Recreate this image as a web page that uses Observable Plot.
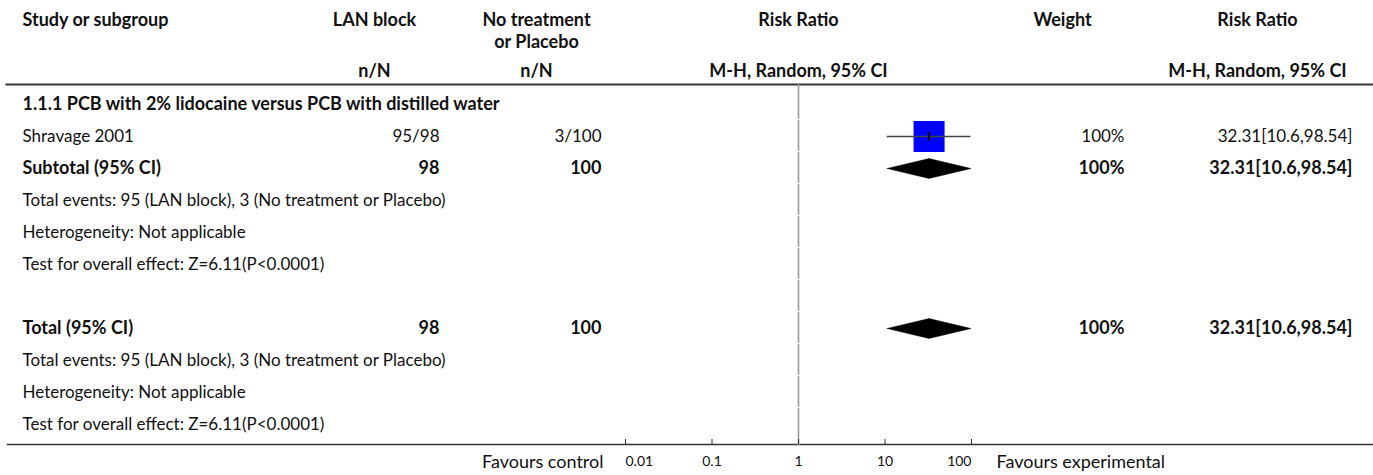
<!DOCTYPE html>
<html>
<head>
<meta charset="utf-8">
<script src="https://cdn.jsdelivr.net/npm/d3@7"></script>
<script src="https://cdn.jsdelivr.net/npm/@observablehq/plot@0.6"></script>
<style>
  html, body { margin: 0; padding: 0; background: #fff; }
  #chart svg { display: block; }
</style>
</head>
<body>
<div id="chart"></div>
<script>
// ---- Forest plot data ----
const groupTitle = "1.1.1 PCB with 2% lidocaine versus PCB with distilled water";

// individual studies
const studyNames = ["Shravage 2001"];
const lanEvents = [95];
const lanTotals = [98];
const ctrlEvents = [3];
const ctrlTotals = [100];
const studyRR = [32.31];
const studyLow = [10.6];
const studyHigh = [98.54];
const studyWeight = [100];

// pooled estimates (subtotal of the group, overall total)
const pooledNames = ["Subtotal (95% CI)", "Total (95% CI)"];
const pooledLanTotals = [98, 98];
const pooledCtrlTotals = [100, 100];
const pooledRR = [32.31, 32.31];
const pooledLow = [10.6, 10.6];
const pooledHigh = [98.54, 98.54];
const pooledWeight = [100, 100];

// summary lines printed under each pooled estimate
const summaryLines = [
  "Total events: 95 (LAN block), 3 (No treatment or Placebo)",
  "Heterogeneity: Not applicable",
  "Test for overall effect: Z=6.11(P<0.0001)"
];

// axis
const axisTicks = [0.01, 0.1, 1, 10, 100];
const favoursLeft = "Favours control";
const favoursRight = "Favours experimental";

// column headers
const headerCells = [
  {text: "Study or subgroup", col: "label", line: 0},
  {text: "LAN block", col: "lan", line: 0},
  {text: "n/N", col: "lan", line: 2},
  {text: "No treatment", col: "ctrl", line: 0},
  {text: "or Placebo", col: "ctrl", line: 1},
  {text: "n/N", col: "ctrl", line: 2},
  {text: "Risk Ratio", col: "plot", line: 0},
  {text: "M-H, Random, 95% CI", col: "plot", line: 2},
  {text: "Weight", col: "weight", line: 0},
  {text: "Risk Ratio", col: "rr", line: 0},
  {text: "M-H, Random, 95% CI", col: "rr", line: 2}
];

// ---- Build the table rows ----
const rows = [];
rows.push({label: groupTitle, bold: true});
studyNames.forEach((name, i) => rows.push({
  label: name, bold: false, kind: "study",
  lan: `${lanEvents[i]}/${lanTotals[i]}`, ctrl: `${ctrlEvents[i]}/${ctrlTotals[i]}`,
  rr: studyRR[i], lo: studyLow[i], hi: studyHigh[i], weight: studyWeight[i]
}));
pooledNames.forEach((name, i) => {
  if (i > 0) rows.push({label: "", bold: false}); // spacer before the overall total
  rows.push({
    label: name, bold: true, kind: "pooled",
    lan: `${pooledLanTotals[i]}`, ctrl: `${pooledCtrlTotals[i]}`,
    rr: pooledRR[i], lo: pooledLow[i], hi: pooledHigh[i], weight: pooledWeight[i]
  });
  summaryLines.forEach(s => rows.push({label: s, bold: false}));
});
rows.forEach((r, i) => r.row = i);

const studies = rows.filter(r => r.kind === "study");
const pooled = rows.filter(r => r.kind === "pooled");
const fmtCI = r => `${r.rr}[${r.lo},${r.hi}]`;

// diamonds as closed polygons
const diamondHalf = 0.31;
const diamonds = pooled.flatMap(r => [
  {id: r.row, x: r.lo, y: r.row},
  {id: r.row, x: r.rr, y: r.row - diamondHalf},
  {id: r.row, x: r.hi, y: r.row},
  {id: r.row, x: r.rr, y: r.row + diamondHalf},
  {id: r.row, x: r.lo, y: r.row}
]);

// line of no effect, drawn one row at a time
const nullSegments = rows.map(r => ({
  y1: r.row - (r.row === 0 ? 0.62 : 0.5),
  y2: r.row + (r.row === rows.length - 1 ? 0.66 : 0.47)
}));

// ---- Layout ----
const plotWidth = 1373, plotHeight = 475;
const colX = {label: 22, lan: 374, ctrl: 536, plot: 798, weight: 1062, rr: 1257};
const valueRight = {lan: 439, ctrl: 601, weight: 1124, rr: 1352};
const headerY = [20, 42, 71];
const frameTop = 84, frameBottom = 444;
const font = "Lato, 'Open Sans', sans-serif";
const ink = "#111";
const size = {header: 18, body: 17, bold: 18, tick: 14, favours: 18};

// text placed at fixed column positions; rows come from the y scale
function placedText(data, place, opts) {
  return Plot.text(data, {
    frameAnchor: "top-left", lineAnchor: "middle", fill: ink, ...opts,
    render(index, scales, values, dims, ctx, next) {
      const g = next(index, scales, values, dims, ctx);
      d3.select(g).selectAll("text").each(function(_, j) {
        const i = index[j];
        const [px, py] = place(data[i], i, values);
        this.setAttribute("transform", `translate(${px},${py})`);
      });
      return g;
    }
  });
}
const inColumn = (xPos) => (d, i, v) => [xPos, v.y[i]];
const rowText = (data, xPos, opts) => placedText(data, inColumn(xPos), {y: "row", fontSize: size.body, ...opts});
const rowBold = (data, xPos, opts) => rowText(data, xPos, {fontWeight: "bold", fontSize: size.bold, ...opts});

const body = rows.filter(r => r.label && !r.bold);
const bodyBold = rows.filter(r => r.label && r.bold);
const atHeader = d => [colX[d.col], headerY[d.line]];
const tickLabel = (ticks, anchor) => Plot.text(ticks, {
  x: d => d, text: d => String(d), frameAnchor: "bottom", lineAnchor: "middle",
  dy: 17, textAnchor: anchor, fontSize: size.tick, fill: ink
});

const chart = Plot.plot({
  width: plotWidth, height: plotHeight,
  marginTop: frameTop, marginBottom: plotHeight - frameBottom, marginLeft: 0, marginRight: 0,
  style: {fontFamily: font, fontSize: "16px", color: ink, background: "#fff"},
  x: {type: "log", domain: [0.01, 100], range: [625, 971], axis: null},
  y: {domain: [-0.5, rows.length - 0.5], range: [88, 440], axis: null},
  marks: [
    // header rule and bottom axis rule
    Plot.frame({anchor: "top", insetLeft: 6, stroke: "#333", strokeWidth: 2}),
    Plot.frame({anchor: "bottom", insetLeft: 7, stroke: "#333", strokeWidth: 1.5}),

    // column headers
    placedText(headerCells.filter(d => d.col === "label"), atHeader, {text: "text", fontWeight: "bold", fontSize: size.header, textAnchor: "start"}),
    placedText(headerCells.filter(d => d.col !== "label"), atHeader, {text: "text", fontWeight: "bold", fontSize: size.header, textAnchor: "middle"}),

    // line of no effect
    Plot.ruleX(nullSegments, {x: () => 1, y1: "y1", y2: "y2", stroke: "#9a9a9a", strokeWidth: 1.6}),

    // row labels
    rowText(body, colX.label, {text: "label", textAnchor: "start"}),
    rowBold(bodyBold, colX.label, {text: "label", textAnchor: "start"}),

    // n/N columns
    rowText(studies, valueRight.lan, {text: "lan", textAnchor: "end"}),
    rowBold(pooled, valueRight.lan, {text: "lan", textAnchor: "end"}),
    rowText(studies, valueRight.ctrl, {text: "ctrl", textAnchor: "end"}),
    rowBold(pooled, valueRight.ctrl, {text: "ctrl", textAnchor: "end"}),

    // weight and effect columns
    rowText(studies, valueRight.weight, {text: d => `${d.weight}%`, textAnchor: "end"}),
    rowBold(pooled, valueRight.weight, {text: d => `${d.weight}%`, textAnchor: "end"}),
    rowText(studies, valueRight.rr, {text: fmtCI, textAnchor: "end"}),
    rowBold(pooled, valueRight.rr, {text: fmtCI, textAnchor: "end"}),

    // study estimates: weighted square, confidence interval, point marker
    Plot.dot(studies, {x: "rr", y: "row", symbol: "square", r: 17.5, fill: "#0000ff", stroke: null}),
    Plot.ruleY(studies, {x1: "lo", x2: "hi", y: "row", stroke: "#444", strokeWidth: 1.6}),
    Plot.ruleX(studies, {x: "rr", y1: d => d.row - 0.14, y2: d => d.row + 0.14, stroke: "#000", strokeWidth: 1.8}),

    // pooled diamonds
    Plot.line(diamonds, {x: "x", y: "y", z: "id", fill: "#000", stroke: "#000", strokeWidth: 0.5, curve: "linear"}),

    // log axis: inward ticks, end labels kept inside the axis span
    Plot.tickX(axisTicks, {x: d => d, insetTop: frameBottom - frameTop - 5, stroke: "#333", strokeWidth: 1}),
    tickLabel(axisTicks.slice(0, 1), "start"),
    tickLabel(axisTicks.slice(1, -1), "middle"),
    tickLabel(axisTicks.slice(-1), "end"),

    // favours labels
    placedText([favoursLeft], () => [603, frameBottom + 18], {fontSize: size.favours, textAnchor: "end"}),
    placedText([favoursRight], () => [996, frameBottom + 18], {fontSize: size.favours, textAnchor: "start"})
  ]
});

document.getElementById("chart").appendChild(chart);
</script>
</body>
</html>
